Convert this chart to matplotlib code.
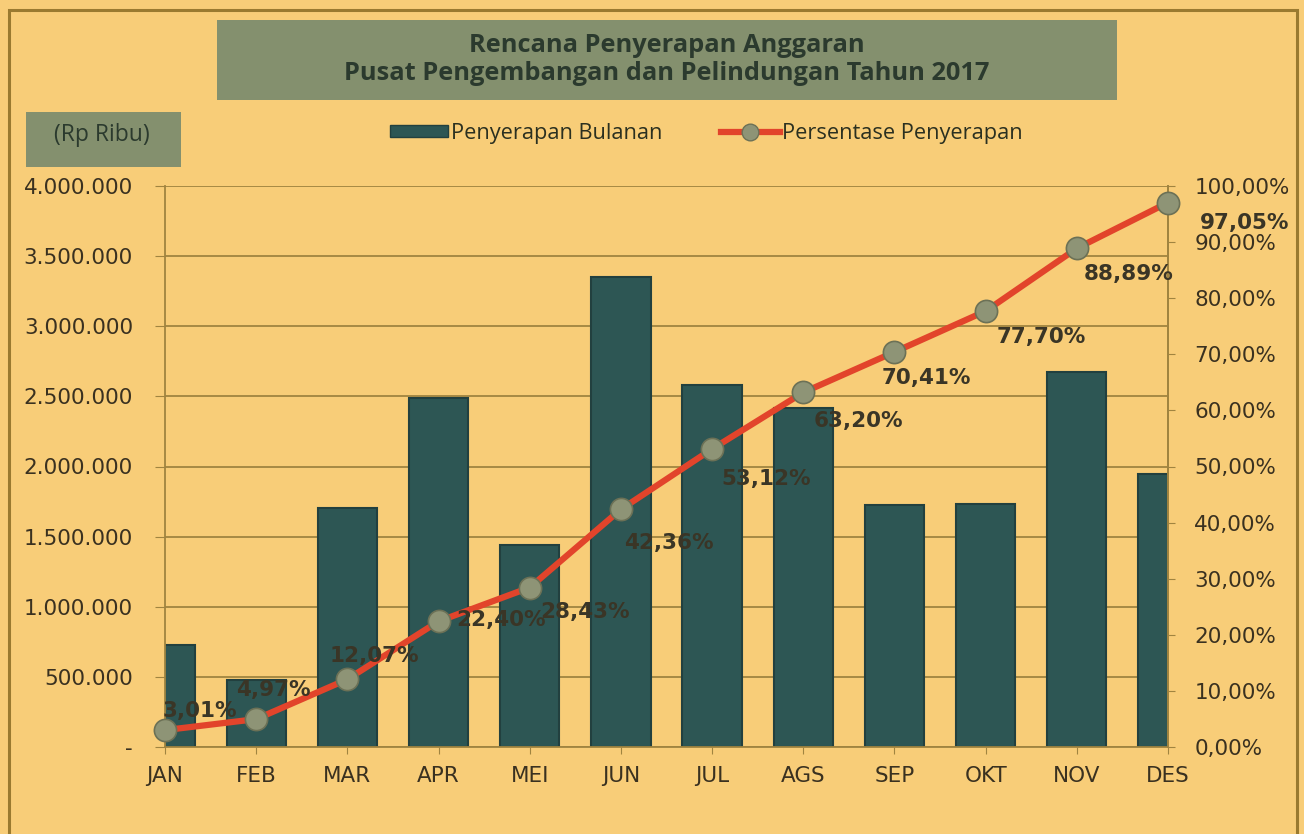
import matplotlib
matplotlib.use("Agg")
import matplotlib.pyplot as plt
from matplotlib.patches import Rectangle, Patch
from matplotlib.lines import Line2D
from matplotlib.ticker import FuncFormatter, MultipleLocator

months = ["JAN", "FEB", "MAR", "APR", "MEI", "JUN", "JUL", "AGS", "SEP", "OKT", "NOV", "DES"]
monthly = [727000, 478000, 1704000, 2488000, 1440000, 3351000, 2581000, 2420000, 1725000, 1733000, 2674000, 1950000]
pct = [3.01, 4.97, 12.07, 22.40, 28.43, 42.36, 53.12, 63.20, 70.41, 77.70, 88.89, 97.05]
pct_labels = ["3,01%", "4,97%", "12,07%", "22,40%", "28,43%", "42,36%", "53,12%", "63,20%", "70,41%", "77,70%", "88,89%", "97,05%"]
title_lines = ["Rencana Penyerapan Anggaran", "Pusat Pengembangan dan Pelindungan Tahun 2017"]
unit_label = "(Rp Ribu)"
legend_labels = ["Penyerapan Bulanan", "Persentase Penyerapan"]

# label offsets in pixels (dx, dy) relative to markers
label_offsets = [(35, 19), (17, 29), (27, 23), (62, 1), (55, -24), (48, -34),
                 (54, -30), (55, -29), (32, -26), (56, -26), (52, -26), (77, -20)]

BG = "#F8CD78"
BOX = "#84906E"
BAR = "#2D5654"
BAR_EDGE = "#22403F"
LINE = "#E2442B"
MARK = "#8E9476"
GRID = "#A08440"
TXT = "#3A3120"

W, H = 1304, 834
fig = plt.figure(figsize=(W / 100, H / 100), dpi=100, facecolor=BG)

# outer border
fig.patches.append(Rectangle((9 / W, -0.02), (1297 - 9) / W, (H - 10) / H + 0.02,
                             transform=fig.transFigure, fill=False,
                             edgecolor="#9A7A30", linewidth=2.2))
# title box
fig.patches.append(Rectangle((217 / W, 1 - 100 / H), (1117 - 217) / W, 80 / H,
                             transform=fig.transFigure, facecolor=BOX, edgecolor="none"))
fig.text(667 / W, 1 - 45 / H, title_lines[0], ha="center", va="center",
         fontsize=18.3, fontweight="bold", color="#2B3A2E", family="Open Sans")
fig.text(667 / W, 1 - 74 / H, title_lines[1], ha="center", va="center",
         fontsize=18.3, fontweight="bold", color="#2B3A2E", family="Open Sans")
# unit box
fig.patches.append(Rectangle((26 / W, 1 - 167 / H), (181 - 26) / W, 55 / H,
                             transform=fig.transFigure, facecolor=BOX, edgecolor="none"))
fig.text(102 / W, 1 - 135 / H, unit_label, ha="center", va="center",
         fontsize=16.5, color="#2B3A2E", family="Open Sans")

ax = fig.add_axes([165 / W, 1 - 747 / H, (1168 - 165) / W, (747 - 186) / H])
ax.set_facecolor("none")
x = list(range(len(months)))
ax.bar(x, monthly, width=0.65, color=BAR, edgecolor=BAR_EDGE, linewidth=1.5, zorder=2)
ax.set_xlim(0, 11)
ax.set_ylim(0, 4000000)
ax.yaxis.set_major_locator(MultipleLocator(500000))
ax.yaxis.set_major_formatter(FuncFormatter(
    lambda v, p: "-" if v == 0 else f"{int(v):,}".replace(",", ".")))
ax.set_axisbelow(True)
ax.grid(axis="y", color=GRID, linewidth=1.3)
ax.set_xticks(x)
ax.set_xticklabels(months)
for s in ax.spines.values():
    s.set_color(GRID)
    s.set_linewidth(1.3)
ax.spines["top"].set_visible(False)
ax.tick_params(axis="y", colors=GRID, labelcolor=TXT, labelsize=15.5, length=7, pad=16)
ax.tick_params(axis="x", colors=GRID, labelcolor=TXT, labelsize=15.5, length=5, pad=9)

ax2 = ax.twinx()
ax2.set_ylim(0, 100)
ax2.yaxis.set_major_locator(MultipleLocator(10))
ax2.yaxis.set_major_formatter(FuncFormatter(lambda v, p: f"{v:.2f}%".replace(".", ",")))
ax2.tick_params(axis="y", colors=GRID, labelcolor=TXT, labelsize=15.5, length=5, pad=14)
for s in ax2.spines.values():
    s.set_visible(False)
ax2.spines["right"].set_visible(True)
ax2.spines["right"].set_color(GRID)
ax2.spines["right"].set_linewidth(1.3)

ax2.plot(x, pct, color=LINE, linewidth=4.5, solid_capstyle="round", zorder=3, clip_on=False)
ax2.plot(x, pct, linestyle="none", marker="o", markersize=16, markerfacecolor=MARK,
         markeredgecolor="#6C7156", markeredgewidth=1.2, zorder=4, clip_on=False)

for xi, yi, lab, (dx, dy) in zip(x, pct, pct_labels, label_offsets):
    ax2.annotate(lab, (xi, yi), xytext=(dx, dy), textcoords="offset pixels",
                 ha="center", va="center", fontsize=15.5, fontweight="bold",
                 color="#3A3526", zorder=6, annotation_clip=False)

handles = [Patch(facecolor=BAR, edgecolor=BAR_EDGE, linewidth=1),
           Line2D([0], [0], color=LINE, linewidth=4.5, marker="o", markersize=12,
                  markerfacecolor=MARK, markeredgecolor="#6C7156")]
fig.legend(handles, legend_labels, loc="center", bbox_to_anchor=(706 / W, 1 - 133 / H),
           ncol=2, frameon=False, handlelength=2.7, handleheight=0.5,
           handletextpad=0.1, columnspacing=2.7, labelcolor="#2B3020",
           prop={"family": "Open Sans", "size": 15.7})

fig.savefig("out.png", dpi=100, facecolor=BG)
